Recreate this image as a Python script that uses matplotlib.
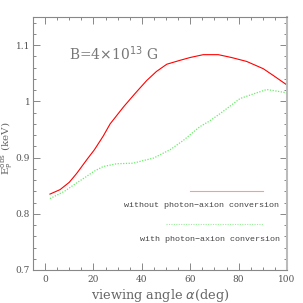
import matplotlib
matplotlib.use("Agg")
import matplotlib.pyplot as plt
from matplotlib.ticker import MultipleLocator

red_x = [2, 6.2, 10, 13.1, 17.2, 20.4, 24, 26.9, 32.4, 37, 42, 46, 50.3, 55.8, 60, 65.4, 71.6, 77, 83.3, 90.2, 95, 100]
red_y = [0.835, 0.843, 0.856, 0.872, 0.896, 0.914, 0.938, 0.96, 0.99, 1.013, 1.037, 1.053, 1.066, 1.073, 1.078, 1.083, 1.083, 1.078, 1.071, 1.058, 1.044, 1.029]
green_x = [2, 8, 13.1, 17, 20, 24, 29.6, 36.5, 40, 44.8, 48, 51.7, 57, 64, 68, 72.3, 76, 80.6, 86, 91.6, 96, 100]
green_y = [0.827, 0.840, 0.855, 0.866, 0.875, 0.884, 0.889, 0.890, 0.894, 0.899, 0.906, 0.914, 0.930, 0.955, 0.965, 0.978, 0.990, 1.005, 1.013, 1.021, 1.018, 1.015]

fig = plt.figure(figsize=(3.03, 3.03), dpi=100)
ax = fig.add_axes([33/303, 1-270/303, (287-33)/303, (270-17)/303])
ax.plot(red_x, red_y, color="red", lw=0.8)
ax.plot(green_x, green_y, color="#66ee66", lw=0.9, ls=(0, (1, 1.2)))

# legend-like annotations
ax.plot([60, 90], [0.841, 0.841], color="#ff9999", lw=0.8)
ax.text(96.5, 0.815, "without photon\u2212axion conversion", ha="right", va="center",
        family="Liberation Mono", fontsize=6, color="#444444")
ax.plot([50, 90], [0.781, 0.781], color="#99ee99", lw=0.8, ls=(0, (1, 1.2)))
ax.text(97, 0.755, "with photon\u2212axion conversion", ha="right", va="center",
        family="Liberation Mono", fontsize=6, color="#444444")
ax.text(10, 1.085, r"B=4$\times$10$^{13}$ G", ha="left", va="center",
        family="DejaVu Serif", fontsize=10, color="#777777")

ax.set_xlim(-5, 100)
ax.set_ylim(0.7, 1.15)
ax.xaxis.set_major_locator(MultipleLocator(20))
ax.xaxis.set_minor_locator(MultipleLocator(5))
ax.yaxis.set_minor_locator(MultipleLocator(0.02))
ax.set_yticks([0.7, 0.8, 0.9, 1.0, 1.1])
ax.set_yticklabels(["0.7", "0.8", "0.9", "1", "1.1"])
ax.tick_params(which="both", direction="in", top=True, right=True, colors="#888888",
               labelcolor="#555555", labelsize=6.5, width=0.7)
ax.tick_params(axis="y", pad=2)
ax.tick_params(which="major", length=5)
ax.tick_params(which="minor", length=2.5)
for lab in ax.get_xticklabels() + ax.get_yticklabels():
    lab.set_family("DejaVu Serif")
for s in ax.spines.values():
    s.set_color("#888888")
    s.set_linewidth(0.8)
ax.spines["right"].set_color("#bbbbbb")
ax.spines["right"].set_linewidth(1.5)

ax.set_xlabel(r"viewing angle $\alpha$(deg)", family="DejaVu Serif", fontsize=9.3,
              color="#666666", labelpad=2)
fig.text(7/303, 1-148/303, r"E$_{\rm P}^{\rm obs}$ (keV)", rotation=90,
         ha="center", va="center", family="DejaVu Serif", fontsize=7.5, color="#666666")

fig.savefig("out.png", dpi=100)
